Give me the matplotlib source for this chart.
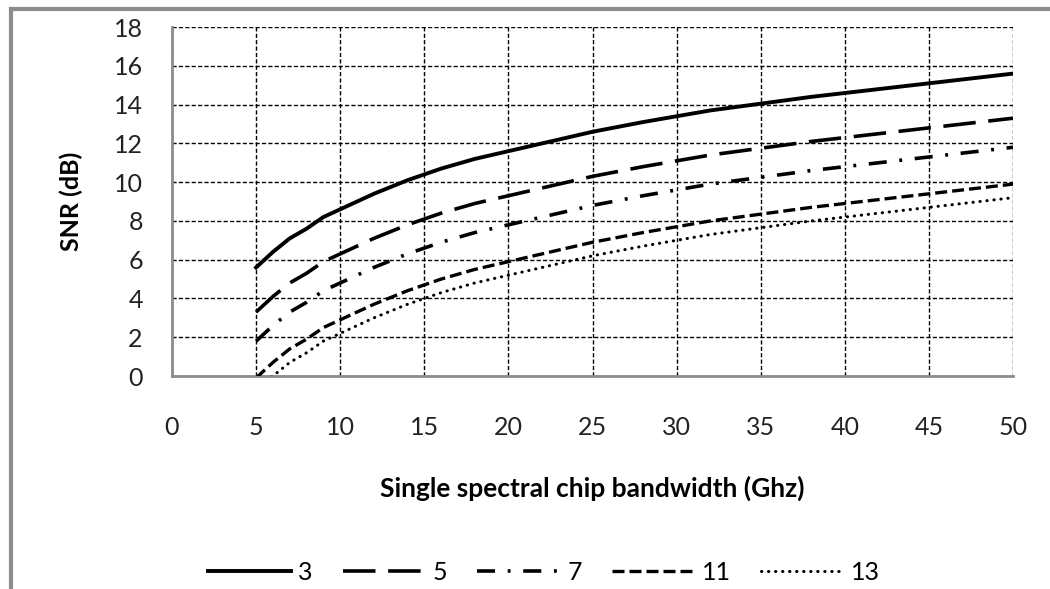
import matplotlib
matplotlib.use("Agg")
import matplotlib.pyplot as plt
from matplotlib.lines import Line2D

plt.rcParams["font.family"] = ["Lato", "DejaVu Sans"]

# chip bandwidth (GHz)
bandwidth = [5, 6, 7, 8, 9, 10, 12, 14, 16, 18, 20, 22, 25, 28, 30, 32, 35, 38, 40, 42, 45, 48, 50]

# SNR (dB) per number of users
snr_3 = [5.6, 6.4, 7.1, 7.6, 8.2, 8.6, 9.4, 10.1, 10.7, 11.2, 11.6, 12.0, 12.6, 13.1, 13.4, 13.7, 14.05, 14.4, 14.6, 14.8, 15.1, 15.4, 15.6]
snr_5 = [3.3, 4.1, 4.8, 5.3, 5.9, 6.3, 7.1, 7.8, 8.4, 8.9, 9.3, 9.7, 10.3, 10.8, 11.1, 11.4, 11.75, 12.1, 12.3, 12.5, 12.8, 13.1, 13.3]
snr_7 = [1.8, 2.6, 3.3, 3.8, 4.4, 4.8, 5.6, 6.3, 6.9, 7.4, 7.8, 8.2, 8.8, 9.3, 9.6, 9.9, 10.25, 10.6, 10.8, 11.0, 11.3, 11.6, 11.8]
snr_11 = [-0.1, 0.7, 1.4, 1.9, 2.5, 2.9, 3.7, 4.4, 5.0, 5.5, 5.9, 6.3, 6.9, 7.4, 7.7, 8.0, 8.35, 8.7, 8.9, 9.1, 9.4, 9.7, 9.9]
snr_13 = [-0.8, 0.0, 0.7, 1.2, 1.8, 2.2, 3.0, 3.7, 4.3, 4.8, 5.2, 5.6, 6.2, 6.7, 7.0, 7.3, 7.65, 8.0, 8.2, 8.4, 8.7, 9.0, 9.2]

labels = ["3", "5", "7", "11", "13"]
x_ticks = list(range(0, 51, 5))
y_ticks = list(range(0, 19, 2))

fig = plt.figure(figsize=(10.5, 5.89), dpi=100)
ax = fig.add_axes([0.1638, 0.3616, 0.8010, 0.5924])

styles = [
    dict(linestyle="-", lw=2.8),
    dict(linestyle=(0, (9, 3.5)), lw=2.6),
    dict(linestyle=(0, (5, 3.5, 0.8, 3.5)), lw=2.6),
    dict(linestyle=(0, (3.6, 1.5)), lw=2.4),
    dict(linestyle=(0, (0.1, 2.2)), lw=2.2, dash_capstyle="round"),
]
series = [snr_3, snr_5, snr_7, snr_11, snr_13]
for y, lab, st in zip(series, labels, styles):
    ax.plot(bandwidth, y, color="black", label=lab, zorder=3, **st)

ax.set_xlim(0, 50)
ax.set_ylim(0, 18)
ax.set_xticks(x_ticks)
ax.set_yticks(y_ticks)
ax.grid(True, color="black", linestyle=(0, (3, 1.6)), linewidth=1.0)
ax.tick_params(length=0, labelsize=18, colors="#222222")
ax.tick_params(axis="x", pad=29)
ax.tick_params(axis="y", pad=21)

for s in ["top", "right"]:
    ax.spines[s].set_visible(False)
for s in ["left", "bottom"]:
    ax.spines[s].set_color("#8c8c8c")
    ax.spines[s].set_linewidth(2)

ax.set_xlabel("Single spectral chip bandwidth (Ghz)", fontsize=19, fontweight="bold", labelpad=26)
ax.set_ylabel("SNR (dB)", fontsize=18, fontweight="bold", labelpad=22)

leg = fig.legend(loc="center", bbox_to_anchor=(0.518, 0.028), ncol=5, frameon=False,
                 fontsize=18, handlelength=3.3, handletextpad=0.3, columnspacing=1.2)

# figure border (top and left, gray)
fig.add_artist(Line2D([0.0105, 1.0], [0.985, 0.985], color="#8c8c8c", lw=3, transform=fig.transFigure))
fig.add_artist(Line2D([0.0105, 0.0105], [0.0, 0.985], color="#8c8c8c", lw=3, transform=fig.transFigure))

fig.savefig("out.png", dpi=100)
